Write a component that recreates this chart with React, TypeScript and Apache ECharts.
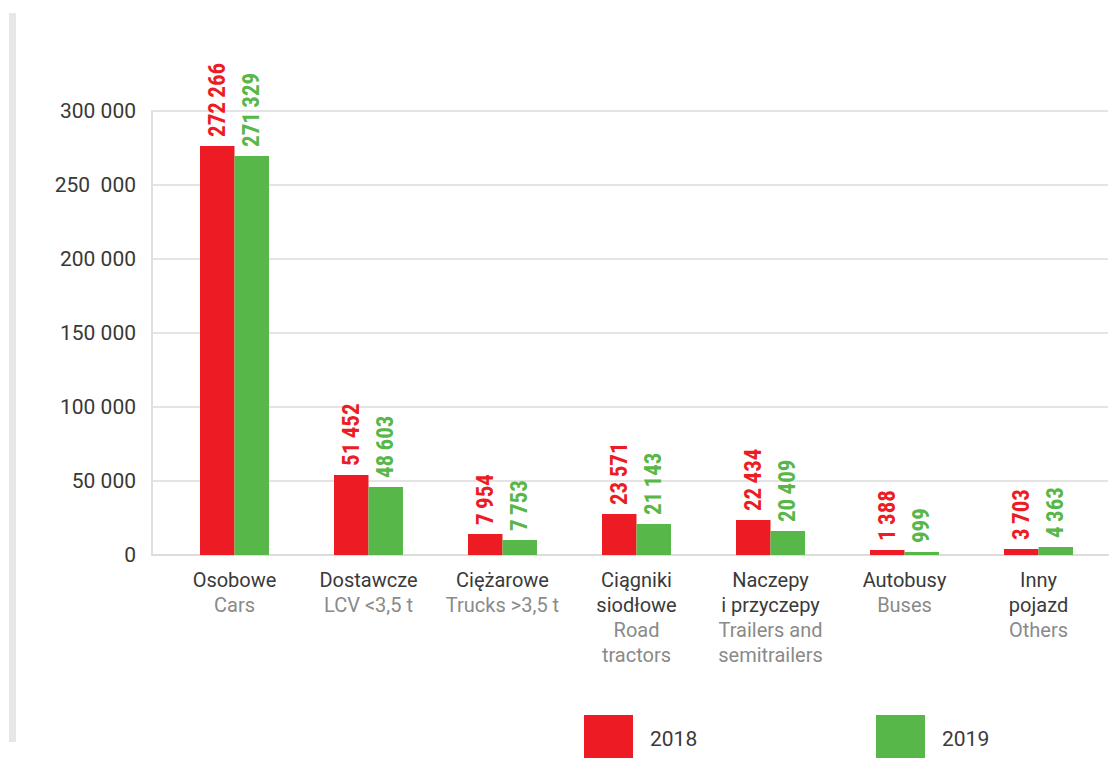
import React, { useEffect, useRef } from "react";
import * as echarts from "echarts";

const categoriesPl: string[][] = [
  ["Osobowe"],
  ["Dostawcze"],
  ["Ciężarowe"],
  ["Ciągniki", "siodłowe"],
  ["Naczepy", "i przyczepy"],
  ["Autobusy"],
  ["Inny", "pojazd"],
];
const categoriesEn: string[][] = [
  ["Cars"],
  ["LCV <3,5 t"],
  ["Trucks >3,5 t"],
  ["Road", "tractors"],
  ["Trailers and", "semitrailers"],
  ["Buses"],
  ["Others"],
];
const seriesNames = ["2018", "2019"];
// bar heights as drawn in the picture
const bars2018 = [276400, 54100, 14200, 27700, 23600, 3400, 4100];
const bars2019 = [269600, 45900, 10100, 20900, 16200, 2000, 5400];
// value labels as printed
const labels2018 = ["272\u2009266", "51\u2009452", "7\u2009954", "23\u2009571", "22\u2009434", "1\u2009388", "3\u2009703"];
const labels2019 = ["271\u2009329", "48\u2009603", "7\u2009753", "21\u2009143", "20\u2009409", "999", "4\u2009363"];
const yTicks = ["0", "50 000", "100 000", "150 000", "200 000", "250\u00a0 000", "300 000"];

const RED = "#ed1c24";
const GREEN = "#57b748";
const LABEL_FONT = "'Roboto Condensed', Roboto, sans-serif";

export default function App() {
  const ref = useRef<HTMLDivElement>(null);
  useEffect(() => {
    if (!ref.current) return;
    const chart = echarts.init(ref.current, undefined, { renderer: "svg" });
    const catKeys = categoriesPl.map((_, i) => String(i));
    const barLabel = (labels: string[], color: string) => ({
      show: true,
      position: "top",
      rotate: 90,
      align: "left",
      verticalAlign: "middle",
      distance: 9,
      color,
      fontSize: 23,
      fontWeight: "bold",
      fontFamily: LABEL_FONT,
      formatter: (p: any) => labels[p.dataIndex],
    });
    const legendText = { fontSize: 21, color: "#3a3a3a", fontFamily: "Roboto, sans-serif", padding: [0, 0, 0, 12] };
    chart.setOption({
      animation: false,
      backgroundColor: "#ffffff",
      grid: [
        { left: 167.5, right: 4.5, top: 111, bottom: 203 },
        { left: 152, right: 2, top: 111, bottom: 203 },
      ],
      xAxis: [
        {
          type: "category",
          gridIndex: 0,
          data: catKeys,
          axisLine: { show: false },
          axisTick: { show: false },
          axisLabel: {
            interval: 0,
            margin: 12,
            formatter: (v: string) => {
              const i = Number(v);
              const pl = categoriesPl[i].map((s) => `{a|${s}}`);
              const en = categoriesEn[i].map((s) => `{b|${s}}`);
              return [...pl, ...en].join("\n");
            },
            rich: {
              a: { fontSize: 20, lineHeight: 25, color: "#3a3a3a", fontFamily: "Roboto, sans-serif" },
              b: { fontSize: 20, lineHeight: 25, color: "#8a8a8a", fontFamily: "Roboto, sans-serif" },
            },
          },
        },
        {
          type: "value",
          gridIndex: 1,
          min: 0,
          max: 1,
          axisLine: { show: true, lineStyle: { color: "#dcdcdc", width: 2 } },
          axisTick: { show: false },
          axisLabel: { show: false },
          splitLine: { show: false },
        },
      ],
      yAxis: [
        {
          type: "value",
          gridIndex: 0,
          min: 0,
          max: 300000,
          interval: 50000,
          show: false,
          splitLine: { show: false },
        },
        {
          type: "value",
          gridIndex: 1,
          min: 0,
          max: 300000,
          interval: 50000,
          axisLine: { show: true, lineStyle: { color: "#e0e0e0", width: 2 } },
          axisTick: { show: false },
          splitLine: { show: true, lineStyle: { color: "#e4e4e4", width: 2 } },
          axisLabel: {
            margin: 16,
            fontSize: 21,
            color: "#383838",
            fontFamily: "Roboto, sans-serif",
            formatter: (v: number) => yTicks[Math.round(v / 50000)],
          },
        },
      ],
      legend: [
        {
          left: 579,
          top: 710,
          data: [seriesNames[0]],
          icon: "rect",
          itemWidth: 49,
          itemHeight: 48,
          textStyle: legendText,
        },
        {
          left: 871,
          top: 710,
          data: [seriesNames[1]],
          icon: "rect",
          itemWidth: 49,
          itemHeight: 48,
          textStyle: legendText,
        },
      ],
      graphic: [
        {
          type: "rect",
          shape: { x: 9, y: 13, width: 7, height: 729 },
          style: { fill: "#e6e7e9" },
          silent: true,
        },
      ],
      series: [
        {
          name: seriesNames[0],
          type: "bar",
          xAxisIndex: 0,
          yAxisIndex: 0,
          data: bars2018,
          barWidth: 34.5,
          barGap: "0%",
          itemStyle: { color: RED },
          label: barLabel(labels2018, RED),
        },
        {
          name: seriesNames[1],
          type: "bar",
          xAxisIndex: 0,
          yAxisIndex: 0,
          data: bars2019,
          barWidth: 34.5,
          barGap: "0%",
          itemStyle: { color: GREEN },
          label: barLabel(labels2019, GREEN),
        },
      ],
    });
    return () => chart.dispose();
  }, []);
  return (
    <div
      ref={ref}
      style={{ position: "fixed", left: 0, top: 0, width: 1110, height: 758, background: "#fff" }}
    />
  );
}
